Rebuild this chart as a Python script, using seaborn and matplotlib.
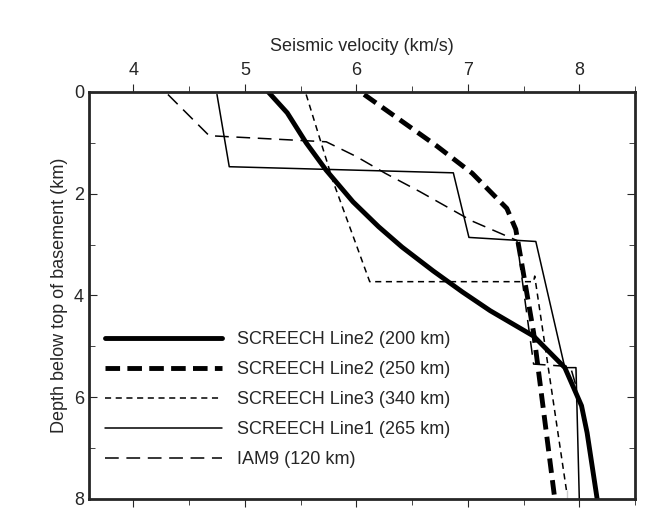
import seaborn as sns
import matplotlib.pyplot as plt
import pandas as pd

sns.set_style("ticks")
plt.rcParams['font.family'] = ['Liberation Sans', 'DejaVu Sans']

# velocity (km/s) vs depth below basement (km)
line2_200_v = [5.21, 5.38, 5.55, 5.73, 5.97, 6.2, 6.41, 6.69, 6.95, 7.2, 7.59, 7.87, 8.02, 8.07, 8.16]
line2_200_d = [0.0, 0.41, 1.0, 1.54, 2.16, 2.65, 3.05, 3.52, 3.93, 4.3, 4.8, 5.42, 6.17, 6.7, 8.0]
line2_250_v = [6.07, 6.72, 7.04, 7.35, 7.43, 7.47, 7.59, 7.78]
line2_250_d = [0.05, 1.06, 1.6, 2.29, 2.7, 3.2, 4.73, 8.0]
line3_v = [5.55, 5.79, 6.12, 7.59, 7.6, 7.89, 7.89]
line3_d = [0.05, 1.75, 3.73, 3.73, 3.62, 7.82, 8.0]
line1_v = [4.75, 4.86, 6.87, 7.01, 7.61, 7.87, 7.97, 8.0]
line1_d = [0.05, 1.47, 1.59, 2.86, 2.94, 5.42, 5.42, 8.0]
iam9_v = [4.31, 4.68, 5.73, 6.0, 6.26, 6.57, 7.04, 7.44, 7.59, 7.92, 7.97, 7.97]
iam9_d = [0.05, 0.86, 0.98, 1.27, 1.6, 1.96, 2.54, 2.92, 5.35, 5.4, 5.45, 6.1]

series = [
    ('SCREECH Line2 (200 km)', line2_200_v, line2_200_d, '-', 3.5),
    ('SCREECH Line2 (250 km)', line2_250_v, line2_250_d, (0, (3, 1.5)), 3.5),
    ('SCREECH Line3 (340 km)', line3_v, line3_d, (0, (4, 3)), 1.1),
    ('SCREECH Line1 (265 km)', line1_v, line1_d, '-', 1.1),
    ('IAM9 (120 km)', iam9_v, iam9_d, (0, (9, 5)), 1.1),
]

fig = plt.figure(figsize=(6.48, 5.08), dpi=100)
ax = fig.add_axes([0.137, 0.018, 0.843, 0.801])

for name, v, d, ls, lw in series:
    df = pd.DataFrame({'v': v, 'd': d})
    sns.lineplot(data=df, x='v', y='d', sort=False, color='black', linestyle=ls,
                 linewidth=lw, label=name, ax=ax)

ax.set_xlim(3.6, 8.5)
ax.set_ylim(8, 0)
ax.xaxis.tick_top()
ax.xaxis.set_label_position('top')
ax.set_xticks([4, 5, 6, 7, 8])
ax.set_xticks([4.5, 5.5, 6.5, 7.5, 8.5], minor=True)
ax.set_yticks([0, 2, 4, 6, 8])
ax.set_yticks([1, 3, 5, 7], minor=True)
ax.tick_params(axis='x', which='both', top=True, bottom=True, direction='out', labelsize=13)
ax.tick_params(axis='y', which='both', left=True, right=True, direction='in', labelsize=13)
ax.tick_params(which='major', length=6)
ax.tick_params(which='minor', length=4)
for s in ax.spines.values():
    s.set_linewidth(2)
ax.set_xlabel('Seismic velocity (km/s)', fontsize=13, labelpad=8)
ax.set_ylabel('Depth below top of basement (km)', fontsize=13)

ax.legend(loc='lower left', bbox_to_anchor=(0.0, 0.035), frameon=False, fontsize=13,
          handlelength=6.5, labelspacing=0.72)

plt.savefig('out.png', dpi=100)
